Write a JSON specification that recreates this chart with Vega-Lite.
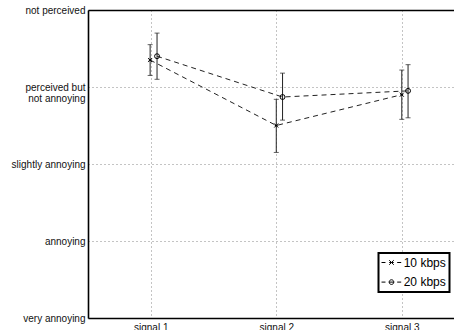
{
  "$schema": "https://vega.github.io/schema/vega-lite/v6.json",
  "width": 366,
  "height": 308,
  "autosize": "none",
  "padding": {"left": 88, "top": 10, "right": 0, "bottom": 12},
  "background": "white",
  "config": {
    "view": {"stroke": null},
    "font": "Liberation Sans",
    "axis": {
      "labelFont": "Liberation Sans",
      "labelFontSize": 10,
      "labelColor": "#111",
      "domainColor": "#000",
      "domainWidth": 1.6,
      "tickColor": "#000",
      "tickWidth": 1,
      "gridColor": "#888",
      "gridDash": [1, 3],
      "gridWidth": 1,
      "title": null
    },
    "legend": {"labelFont": "Liberation Sans", "strokeWidth": 2}
  },
  "data": {
    "values": [
      {"signal": 1, "rate": "10 kbps", "x": 0.995, "mean": 4.35, "lo": 4.15, "hi": 4.55},
      {"signal": 2, "rate": "10 kbps", "x": 2.0, "mean": 3.5, "lo": 3.15, "hi": 3.84},
      {"signal": 3, "rate": "10 kbps", "x": 3.0, "mean": 3.9, "lo": 3.58, "hi": 4.22},
      {"signal": 1, "rate": "20 kbps", "x": 1.05, "mean": 4.4, "lo": 4.1, "hi": 4.7},
      {"signal": 2, "rate": "20 kbps", "x": 2.05, "mean": 3.87, "lo": 3.57, "hi": 4.18},
      {"signal": 3, "rate": "20 kbps", "x": 3.05, "mean": 3.95, "lo": 3.6, "hi": 4.29}
    ]
  },
  "layer": [
    {
      "mark": {"type": "line", "color": "#222", "strokeWidth": 1, "strokeDash": [5, 4]},
      "encoding": {
        "x": {
          "field": "x", "type": "quantitative",
          "scale": {"domain": [0.5, 3.416], "nice": false, "zero": false},
          "axis": {
            "orient": "bottom", "values": [1, 2, 3], "grid": true,
            "labelExpr": "'signal ' + datum.value",
            "ticks": false, "labelPadding": 4, "labelBaseline": "top"
          }
        },
        "y": {
          "field": "mean", "type": "quantitative",
          "scale": {"domain": [1, 5], "nice": false, "zero": false},
          "axis": {
            "values": [1, 2, 3, 4, 5], "grid": true,
            "ticks": false, "labelPadding": 3,
            "labelLineHeight": 11,
            "labelExpr": "datum.value == 5 ? 'not perceived' : datum.value == 4 ? ['perceived but', 'not annoying'] : datum.value == 3 ? 'slightly annoying' : datum.value == 2 ? 'annoying' : 'very annoying'"
          }
        },
        "detail": {"field": "rate"}
      }
    },
    {
      "mark": {"type": "rule", "color": "#222", "strokeWidth": 1},
      "encoding": {
        "x": {
          "field": "x", "type": "quantitative",
          "axis": {"orient": "top", "values": [1, 2, 3], "labels": false, "grid": false, "ticks": false}
        },
        "y": {"field": "lo", "type": "quantitative"},
        "y2": {"field": "hi"}
      }
    },
    {
      "mark": {"type": "tick", "orient": "horizontal", "color": "#222", "size": 5, "thickness": 1},
      "encoding": {
        "x": {"field": "x", "type": "quantitative", "axis": null},
        "y": {"field": "lo", "type": "quantitative"}
      }
    },
    {
      "mark": {"type": "tick", "orient": "horizontal", "color": "#222", "size": 5, "thickness": 1},
      "encoding": {
        "x": {"field": "x", "type": "quantitative", "axis": null},
        "y": {"field": "hi", "type": "quantitative"}
      }
    },
    {
      "mark": {"type": "point", "filled": false, "stroke": "#000", "strokeWidth": 1, "opacity": 1},
      "encoding": {
        "x": {"field": "x", "type": "quantitative", "axis": null},
        "y": {"field": "mean", "type": "quantitative"},
        "shape": {
          "field": "rate", "type": "nominal", "legend": null,
          "scale": {"domain": ["10 kbps", "20 kbps"], "range": ["M-1,-1L1,1M-1,1L1,-1M-0.7,0H0.7", "circle"]}
        },
        "size": {"field": "rate", "type": "nominal", "legend": null, "scale": {"domain": ["10 kbps", "20 kbps"], "range": [16, 24]}}
      }
    },
    {
      "mark": {"type": "point", "filled": false, "stroke": "#000", "opacity": 0},
      "encoding": {
        "x": {"field": "x", "type": "quantitative", "axis": null},
        "y": {"field": "mean", "type": "quantitative"},
        "shape": {
          "field": "rate", "type": "nominal",
          "scale": {
            "domain": ["10 kbps", "20 kbps"],
            "range": [
              "M-1.08,0H-0.42M0.2,-0.38L0.96,0.38M0.2,0.38L0.96,-0.38M0.2,0H0.96M1.53,0H2.2",
              "M-1.08,0H-0.42M0.97,0A0.39,0.39,0,1,1,0.19,0A0.39,0.39,0,1,1,0.97,0M0.19,0H0.97M1.53,0H2.2"
            ]
          },
          "legend": {
            "title": null,
            "orient": "none",
            "legendX": 290.5,
            "legendY": 243,
            "direction": "vertical",
            "padding": 3,
            "rowPadding": 6.6,
            "symbolSize": 144,
            "symbolStrokeWidth": 1,
            "symbolStrokeColor": "#000",
            "symbolFillColor": "transparent",
            "symbolOpacity": 1,
            "labelOffset": 9.2,
            "labelFontSize": 12,
            "labelColor": "#000",
            "labelExpr": "datum.label + '    '",
            "strokeColor": "#000",
            "fillColor": "white"
          }
        }
      }
    }
  ],
  "resolve": {"axis": {"x": "independent"}, "scale": {"shape": "independent", "size": "independent"}}
}
